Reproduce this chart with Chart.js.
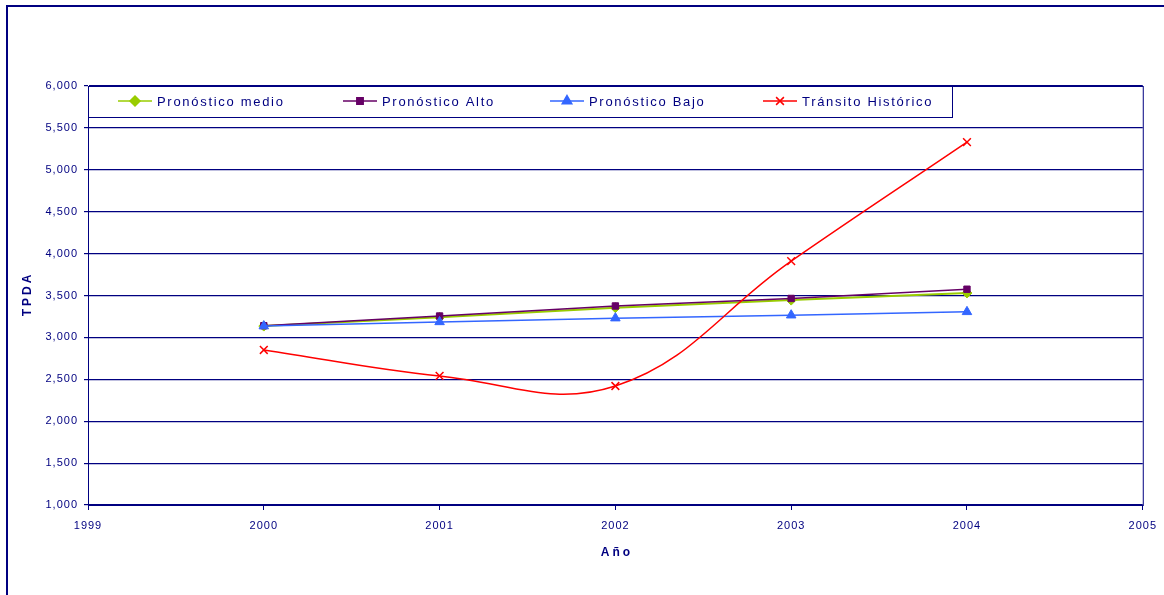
<!DOCTYPE html>
<html>
<head>
<meta charset="utf-8">
<script src="https://cdn.jsdelivr.net/npm/chart.js@4/dist/chart.umd.min.js"></script>
<style>
  html, body { margin: 0; padding: 0; background: #fff; }
  #wrap { width: 1164px; height: 595px; position: relative; }
</style>
</head>
<body>
<div id="wrap"><canvas id="traficoChart"></canvas></div>
<script>
// --- DATOS ---
const years = [2000, 2001, 2002, 2003, 2004];
const medio = [3135, 3240, 3355, 3445, 3530];
const alto = [3140, 3255, 3375, 3465, 3575];
const bajo = [3135, 3185, 3230, 3265, 3305];
const historico = [2850, 2540, 2420, 3910, 5330];
const seriesNames = ['Pronóstico medio', 'Pronóstico Alto', 'Pronóstico Bajo', 'Tránsito Histórico'];
const yTicks = [1000, 1500, 2000, 2500, 3000, 3500, 4000, 4500, 5000, 5500, 6000];
const xTicks = [1999, 2000, 2001, 2002, 2003, 2004, 2005];
const xTitle = 'Año';
const yTitle = 'TPDA';

const NAVY = '#000080';
const FONT = 'Arial, "Liberation Sans", sans-serif';

function toPoints(vals) {
    return years.map((y, i) => ({ x: y, y: vals[i] }));
}

// leyenda, marcos y títulos de ejes dibujados a mano (estilo Excel)
const legendX = [118, 343, 550, 763];
const excelLegend = {
    id: 'excelLegend',
    beforeDraw(chart) {
        chart.ctx.letterSpacing = '1px';
    },
    afterDraw(chart) {
        const ctx = chart.ctx;
        const a = chart.chartArea;
        ctx.save();
        ctx.letterSpacing = '0px';

        // marco exterior
        ctx.strokeStyle = NAVY;
        ctx.lineWidth = 2;
        ctx.beginPath();
        ctx.moveTo(7, 600);
        ctx.lineTo(7, 6);
        ctx.lineTo(1200, 6);
        ctx.stroke();

        // marco del área de trazado
        ctx.lineWidth = 1;
        ctx.strokeRect(a.left + 0.5, a.top + 0.5, a.right - a.left, a.bottom - a.top);

        // títulos de ejes
        ctx.fillStyle = NAVY;
        ctx.font = 'bold 12px ' + FONT;
        ctx.letterSpacing = '3px';
        ctx.textAlign = 'center';
        ctx.textBaseline = 'middle';
        ctx.fillText(xTitle, (a.left + a.right) / 2 + 1.5, 553);
        ctx.save();
        ctx.translate(28, (a.top + a.bottom) / 2);
        ctx.rotate(-Math.PI / 2);
        ctx.fillText(yTitle, 1.5, 0);
        ctx.restore();
        ctx.letterSpacing = '0px';

        // caja de leyenda
        ctx.fillStyle = '#fff';
        ctx.fillRect(88, 86, 864, 31);
        ctx.strokeRect(88.5, 86.5, 864, 31);

        const ly = 101;
        chart.data.datasets.forEach((ds, i) => {
            const x = legendX[i];
            ctx.strokeStyle = ds.borderColor;
            ctx.lineWidth = 1.5;
            ctx.beginPath();
            ctx.moveTo(x, ly);
            ctx.lineTo(x + 34, ly);
            ctx.stroke();
            ctx.fillStyle = ds.pointBackgroundColor;
            ctx.strokeStyle = ds.pointBorderColor;
            Chart.helpers.drawPoint(ctx, {
                pointStyle: ds.pointStyle,
                radius: ds.pointRadius,
                rotation: 0,
                borderWidth: ds.pointBorderWidth
            }, x + 17, ly);
            ctx.fillStyle = NAVY;
            ctx.font = '13px ' + FONT;
            ctx.letterSpacing = '1.7px';
            ctx.textBaseline = 'middle';
            ctx.textAlign = 'left';
            ctx.fillText(ds.label, x + 39, ly + 1);
            ctx.letterSpacing = '0px';
        });
        ctx.restore();
    }
};

const ctx = document.getElementById('traficoChart');
new Chart(ctx, {
    type: 'line',
    data: {
        datasets: [
            {
                label: seriesNames[0],
                data: toPoints(medio),
                borderColor: '#99cc00',
                borderWidth: 2,
                pointStyle: 'rectRot',
                pointRadius: 5,
                pointBackgroundColor: '#99cc00',
                pointBorderColor: '#99cc00',
                pointBorderWidth: 1,
                tension: 0,
                order: 4
            },
            {
                label: seriesNames[1],
                data: toPoints(alto),
                borderColor: '#660066',
                borderWidth: 1.5,
                pointStyle: 'rect',
                pointRadius: 4.5,
                pointBackgroundColor: '#660066',
                pointBorderColor: '#660066',
                pointBorderWidth: 1,
                tension: 0,
                order: 3
            },
            {
                label: seriesNames[2],
                data: toPoints(bajo),
                borderColor: '#3366ff',
                borderWidth: 1.5,
                pointStyle: 'triangle',
                pointRadius: 5.5,
                pointBackgroundColor: '#3366ff',
                pointBorderColor: '#3366ff',
                pointBorderWidth: 1,
                tension: 0,
                order: 2
            },
            {
                label: seriesNames[3],
                data: toPoints(historico),
                borderColor: '#ff0000',
                borderWidth: 1.5,
                pointStyle: 'crossRot',
                pointRadius: 5.5,
                pointBackgroundColor: '#ff0000',
                pointBorderColor: '#ff0000',
                pointBorderWidth: 1.5,
                tension: 0.4,
                order: 1
            }
        ]
    },
    options: {
        responsive: true,
        maintainAspectRatio: false,
        animation: false,
        layout: { padding: { left: 0, right: 21, top: 86, bottom: 0 } },
        plugins: {
            legend: { display: false },
            tooltip: { enabled: false }
        },
        scales: {
            x: {
                type: 'linear',
                min: 1999,
                max: 2005,
                afterFit(scale) { scale.height = 90; },
                afterBuildTicks(scale) { scale.ticks = xTicks.map(v => ({ value: v })); },
                border: { color: NAVY, width: 1 },
                grid: { drawOnChartArea: false, color: NAVY, tickLength: 5 },
                ticks: {
                    color: NAVY,
                    padding: 9,
                    font: { family: FONT, size: 11 },
                    callback: v => String(v)
                }
            },
            y: {
                min: 1000,
                max: 6000,
                afterFit(scale) { scale.width = 88; },
                afterBuildTicks(scale) { scale.ticks = yTicks.map(v => ({ value: v })); },
                border: { color: NAVY, width: 1 },
                grid: { color: NAVY, lineWidth: 1.2, tickLength: 4 },
                ticks: {
                    color: NAVY,
                    padding: 6,
                    font: { family: FONT, size: 11 },
                    callback: v => v.toLocaleString('en-US')
                }
            }
        }
    },
    plugins: [excelLegend]
});
</script>
</body>
</html>
